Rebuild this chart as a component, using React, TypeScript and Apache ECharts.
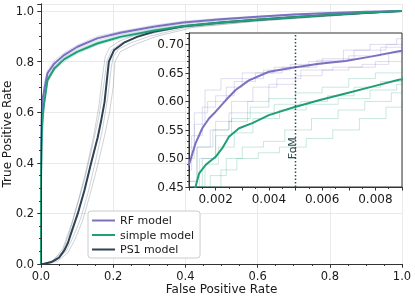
import React, { useEffect, useRef } from 'react';
import * as echarts from 'echarts';

// ---------- data (FPR, TPR) ----------
const rfCurve = [[0,0],[0,0.30],[0.0005,0.45],[0.001,0.489],[0.00113,0.509],[0.00125,0.527],[0.0015,0.553],[0.00175,0.570],[0.002,0.582],[0.00238,0.602],[0.00275,0.62],[0.00325,0.637],[0.004,0.652],[0.00488,0.659],[0.00588,0.666],[0.00688,0.671],[0.00788,0.679],[0.00888,0.688],[0.0095,0.692],[0.018,0.754],[0.037,0.793],[0.064,0.826],[0.101,0.859],[0.156,0.892],[0.22,0.914],[0.312,0.938],[0.394,0.955],[0.5,0.968],[0.6,0.978],[0.7,0.986],[0.8,0.992],[0.9,0.997],[1,1]];
const simpleCurve = [[0,0],[0,0.35],[0.001,0.42],[0.00125,0.451],[0.00138,0.474],[0.00163,0.489],[0.002,0.503],[0.00225,0.518],[0.0025,0.538],[0.00288,0.553],[0.00338,0.562],[0.004,0.576],[0.00488,0.589],[0.00588,0.602],[0.00688,0.614],[0.00788,0.626],[0.00888,0.638],[0.0095,0.642],[0.018,0.727],[0.037,0.773],[0.064,0.809],[0.10,0.839],[0.156,0.872],[0.22,0.898],[0.31,0.922],[0.39,0.94],[0.5,0.955],[0.6,0.966],[0.7,0.976],[0.8,0.985],[0.9,0.993],[1,1]];
const ps1Curve = [[0,0],[0.01,0.001],[0.03,0.008],[0.05,0.025],[0.065,0.055],[0.075,0.085],[0.083,0.12],[0.102,0.2],[0.12,0.29],[0.139,0.4],[0.157,0.5],[0.167,0.57],[0.176,0.64],[0.182,0.72],[0.188,0.8],[0.202,0.845],[0.23,0.875],[0.266,0.898],[0.312,0.918],[0.394,0.94],[0.5,0.955],[0.6,0.966],[0.7,0.976],[0.8,0.985],[0.9,0.993],[1,1]];

const rfThinMain1 = [[0,0],[0,0.5],[0.009,0.715],[0.018,0.765],[0.037,0.805],[0.064,0.835],[0.101,0.866],[0.156,0.9],[0.22,0.92],[0.312,0.944],[0.394,0.96],[0.5,0.972],[0.7,0.988],[1,1]];
const rfThinMain2 = [[0,0],[0,0.45],[0.009,0.685],[0.018,0.742],[0.037,0.782],[0.064,0.818],[0.101,0.852],[0.156,0.884],[0.22,0.908],[0.312,0.932],[0.394,0.95],[0.5,0.963],[0.7,0.982],[1,1]];
const rfThinMain3 = [[0,0],[0,0.47],[0.009,0.705],[0.018,0.76],[0.037,0.79],[0.064,0.83],[0.101,0.86],[0.156,0.895],[0.22,0.918],[0.312,0.94],[0.394,0.956],[0.5,0.97],[0.7,0.986],[1,1]];

const simpleThinMain1 = [[0,0],[0,0.42],[0.009,0.665],[0.018,0.735],[0.037,0.782],[0.064,0.816],[0.1,0.846],[0.156,0.878],[0.22,0.904],[0.31,0.928],[0.39,0.945],[0.5,0.96],[0.7,0.98],[1,1]];
const simpleThinMain2 = [[0,0],[0,0.38],[0.009,0.63],[0.018,0.718],[0.037,0.765],[0.064,0.8],[0.1,0.832],[0.156,0.866],[0.22,0.892],[0.31,0.916],[0.39,0.935],[0.5,0.95],[0.7,0.972],[1,1]];
const simpleThinMain3 = [[0,0],[0,0.4],[0.009,0.65],[0.018,0.73],[0.037,0.778],[0.064,0.812],[0.1,0.842],[0.156,0.876],[0.22,0.9],[0.31,0.925],[0.39,0.942],[0.5,0.957],[0.7,0.978],[1,1]];

const ps1Thin1 = [[0,0],[0.03,0.01],[0.06,0.05],[0.08,0.13],[0.1,0.23],[0.12,0.33],[0.14,0.45],[0.16,0.58],[0.175,0.72],[0.182,0.8],[0.195,0.845],[0.22,0.872],[0.27,0.9],[0.4,0.94],[0.6,0.966],[1,1]];
const ps1Thin2 = [[0,0],[0.04,0.012],[0.07,0.05],[0.09,0.11],[0.11,0.18],[0.13,0.28],[0.15,0.4],[0.17,0.53],[0.185,0.66],[0.195,0.78],[0.2,0.82],[0.215,0.85],[0.25,0.875],[0.3,0.9],[0.4,0.935],[0.6,0.962],[1,1]];
const ps1Thin3 = [[0,0],[0.035,0.015],[0.06,0.06],[0.085,0.16],[0.105,0.26],[0.125,0.37],[0.145,0.5],[0.16,0.62],[0.17,0.74],[0.178,0.82],[0.19,0.855],[0.215,0.88],[0.26,0.905],[0.35,0.93],[0.5,0.955],[1,1]];
const ps1Thin4 = [[0,0],[0.045,0.01],[0.075,0.045],[0.095,0.1],[0.115,0.17],[0.135,0.27],[0.155,0.38],[0.175,0.5],[0.19,0.6],[0.2,0.7],[0.205,0.8],[0.22,0.84],[0.26,0.868],[0.32,0.9],[0.42,0.935],[0.6,0.96],[1,1]];

const rfThinInset1 = [[0.001,0.5],[0.0012,0.56],[0.0016,0.62],[0.0022,0.64],[0.003,0.65],[0.0042,0.66],[0.0055,0.67],[0.0068,0.69],[0.0078,0.70],[0.0088,0.71],[0.009,0.712]];
const rfThinInset2 = [[0.001,0.46],[0.0013,0.52],[0.0018,0.55],[0.0025,0.58],[0.0032,0.6],[0.004,0.63],[0.005,0.645],[0.006,0.655],[0.007,0.66],[0.008,0.67],[0.009,0.675]];
const rfThinInset3 = [[0.001,0.48],[0.0011,0.54],[0.0015,0.59],[0.002,0.61],[0.0027,0.635],[0.0035,0.65],[0.0045,0.66],[0.0058,0.672],[0.007,0.68],[0.0082,0.695],[0.009,0.70]];
const rfThinInset4 = [[0.001,0.45],[0.0014,0.5],[0.002,0.565],[0.0026,0.6],[0.0034,0.625],[0.0043,0.64],[0.0052,0.655],[0.0064,0.66],[0.0075,0.665],[0.0085,0.685],[0.009,0.688]];
const rfThinInset5 = [[0.001,0.52],[0.0012,0.58],[0.0017,0.6],[0.0024,0.625],[0.003,0.64],[0.0038,0.655],[0.0048,0.665],[0.006,0.675],[0.0072,0.69],[0.0084,0.70],[0.009,0.705]];

const simpleThinInset1 = [[0.001,0.45],[0.0015,0.5],[0.002,0.54],[0.0026,0.57],[0.0033,0.59],[0.004,0.605],[0.005,0.615],[0.006,0.625],[0.007,0.64],[0.008,0.65],[0.009,0.655]];
const simpleThinInset2 = [[0.0012,0.45],[0.0018,0.47],[0.0024,0.5],[0.003,0.52],[0.0038,0.53],[0.0046,0.55],[0.0056,0.57],[0.0066,0.585],[0.0076,0.6],[0.0086,0.615],[0.009,0.62]];
const simpleThinInset3 = [[0.001,0.46],[0.0013,0.52],[0.0019,0.55],[0.0025,0.565],[0.0032,0.58],[0.0042,0.595],[0.0052,0.6],[0.0062,0.61],[0.0072,0.625],[0.0082,0.635],[0.009,0.645]];
const simpleThinInset4 = [[0.0017,0.45],[0.0022,0.48],[0.0028,0.5],[0.0036,0.51],[0.0044,0.52],[0.0054,0.535],[0.0064,0.55],[0.0074,0.57],[0.0084,0.59],[0.009,0.6]];
const simpleThinInset5 = [[0.0011,0.45],[0.0016,0.49],[0.0021,0.52],[0.0027,0.545],[0.0034,0.57],[0.0044,0.585],[0.0054,0.595],[0.0066,0.605],[0.0078,0.62],[0.0088,0.63],[0.009,0.632]];

const fomLine = [[0.005,0.45],[0.005,0.72]];
const fomLabelPos = [0.00487, 0.518];

const legendNames = ['RF model', 'simple model', 'PS1 model'];

const FONT = 'DejaVu Sans';
const RF = '#7a72c0';
const SIMPLE = '#1f9e78';
const PS1 = '#2f4154';

export default function App() {
  const ref = useRef<HTMLDivElement>(null);
  useEffect(() => {
    const chart = echarts.init(ref.current!, null, { renderer: 'svg' });

    const thin = (data: number[][], color: string, xi: number, step: boolean, opacity = 0.3) => ({
      type: 'line', data, xAxisIndex: xi, yAxisIndex: xi, symbol: 'none', silent: true,
      step: step ? 'end' : false,
      lineStyle: { color, width: 0.8, opacity }, z: xi === 2 ? 11 : 2, clip: true,
    });
    const bold = (name: string, data: number[][], color: string, xi: number) => ({
      type: 'line', name, data, xAxisIndex: xi, yAxisIndex: xi, symbol: 'none',
      itemStyle: { color }, lineStyle: { color, width: 2 }, z: xi === 2 ? 12 : 3, clip: true,
    });

    const mainY = (v: number) => Math.abs(v * 5 - Math.round(v * 5)) < 1e-6 ? v.toFixed(1) : '';
    const insetX = (v: number) => {
      const k = Math.round(v / 0.001);
      return Math.abs(v - k * 0.001) < 1e-9 && k % 2 === 0 ? v.toFixed(3) : '';
    };
    const insetY = (v: number) => Math.abs(v * 20 - Math.round(v * 20)) < 1e-6 ? v.toFixed(2) : '';

    const axisLine = { show: true, lineStyle: { color: '#333', width: 1 } };
    const lbl = { color: '#1a1a1a', fontFamily: FONT, fontSize: 11.5 };
    const lblInset = { color: '#1a1a1a', fontFamily: FONT, fontSize: 12 };
    const title = { color: '#1a1a1a', fontFamily: FONT, fontSize: 12 };

    const option: any = {
      animation: false,
      textStyle: { fontFamily: FONT },
      grid: [
        { left: 41, top: 4, width: 361, height: 260, containLabel: false, outerBoundsMode: 'none' },
        { left: 189, top: 33, width: 213, height: 154, containLabel: false, outerBoundsMode: 'none',
          show: true, backgroundColor: '#fff', borderColor: '#333', borderWidth: 1, z: 10 },
      ],
      xAxis: [
        { type: 'value', gridIndex: 0, min: 0, max: 1, interval: 0.2, position: 'bottom',
          name: 'False Positive Rate', nameLocation: 'middle', nameGap: 19, nameMoveOverlap: false, nameTextStyle: title,
          axisLine, axisTick: { show: true, length: 3.5, lineStyle: { color: '#333' } },
          minorTick: { show: true, splitNumber: 4, length: 2, lineStyle: { color: '#333' } },
          axisLabel: { ...lbl, margin: 6, formatter: (v: number) => v.toFixed(1) },
          splitLine: { show: true, lineStyle: { color: '#e4e4e4', width: 0.8 } } },
        { type: 'value', gridIndex: 0, min: 0, max: 1, interval: 0.2, position: 'top',
          axisLine, axisTick: { show: true, inside: true, length: 3.5, lineStyle: { color: '#333' } },
          minorTick: { show: true, splitNumber: 4, length: 2, lineStyle: { color: '#333' } },
          axisLabel: { show: false }, splitLine: { show: false } },
        { type: 'value', gridIndex: 1, min: 0.001, max: 0.009, interval: 0.001, position: 'bottom', z: 12,
          axisLine, axisTick: { show: true, length: 3.5, lineStyle: { color: '#333' } },
          minorTick: { show: true, splitNumber: 2, length: 2, lineStyle: { color: '#333' } },
          axisLabel: { ...lblInset, margin: 6, formatter: insetX }, splitLine: { show: false } },
      ],
      yAxis: [
        { type: 'value', gridIndex: 0, min: 0, max: 1.028, interval: 0.2, position: 'left',
          name: 'True Positive Rate', nameLocation: 'middle', nameGap: 28, nameMoveOverlap: false, nameTextStyle: title,
          axisLine, axisTick: { show: true, length: 3.5, lineStyle: { color: '#333' } },
          minorTick: { show: true, splitNumber: 4, length: 2, lineStyle: { color: '#333' } },
          axisLabel: { ...lbl, margin: 7, formatter: mainY },
          splitLine: { show: true, lineStyle: { color: '#e4e4e4', width: 0.8 } } },
        { type: 'value', gridIndex: 0, min: 0, max: 1.028, interval: 0.2, position: 'right', z: 13,
          axisLine, axisTick: { show: true, inside: true, length: 3.5, lineStyle: { color: '#333' } },
          minorTick: { show: true, splitNumber: 4, length: 2, lineStyle: { color: '#333' } },
          axisLabel: { show: false }, splitLine: { show: false } },
        { type: 'value', gridIndex: 1, min: 0.45, max: 0.72, interval: 0.05, position: 'left', z: 12,
          axisLine, axisTick: { show: true, length: 3.5, lineStyle: { color: '#333' } },
          minorTick: { show: true, splitNumber: 5, length: 2, lineStyle: { color: '#333' } },
          axisLabel: { ...lblInset, margin: 5, formatter: insetY }, splitLine: { show: false } },
      ],
      legend: {
        data: legendNames.map((n) => ({ name: n, icon: 'rect' })), orient: 'vertical', left: 88, top: 211,
        itemWidth: 23, itemHeight: 2, itemGap: 3.5, padding: [4, 6, 3, 4],
        backgroundColor: '#fff', borderColor: '#ccc', borderWidth: 1, borderRadius: 3,
        textStyle: { color: '#1a1a1a', fontFamily: FONT, fontSize: 11 },
      },
      series: [
        thin(rfThinMain1, RF, 0, false), thin(rfThinMain2, RF, 0, false), thin(rfThinMain3, RF, 0, false),
        thin(simpleThinMain1, SIMPLE, 0, false), thin(simpleThinMain2, SIMPLE, 0, false), thin(simpleThinMain3, SIMPLE, 0, false),
        thin(ps1Thin1, PS1, 0, false), thin(ps1Thin2, PS1, 0, false), thin(ps1Thin3, PS1, 0, false), thin(ps1Thin4, PS1, 0, false),
        bold('PS1 model', ps1Curve, PS1, 0),
        bold('RF model', rfCurve, RF, 0),
        bold('simple model', simpleCurve, SIMPLE, 0),
        thin(rfThinInset1, RF, 2, true), thin(rfThinInset2, RF, 2, true), thin(rfThinInset3, RF, 2, true), thin(rfThinInset4, RF, 2, true), thin(rfThinInset5, RF, 2, true),
        thin(simpleThinInset1, SIMPLE, 2, true), thin(simpleThinInset2, SIMPLE, 2, true), thin(simpleThinInset3, SIMPLE, 2, true), thin(simpleThinInset4, SIMPLE, 2, true), thin(simpleThinInset5, SIMPLE, 2, true),
        bold('RF inset', rfCurve, RF, 2),
        bold('simple inset', simpleCurve, SIMPLE, 2),
        { type: 'line', name: 'FoM', data: fomLine, xAxisIndex: 2, yAxisIndex: 2, symbol: 'none', silent: true, z: 13,
          lineStyle: { color: '#2f4f4f', width: 1.5, type: [1.5, 2] } },
      ],
    };
    chart.setOption(option);
    const p = chart.convertToPixel({ gridIndex: 1 } as any, fomLabelPos) as number[];
    chart.setOption({
      graphic: [{
        type: 'text', x: p[0], y: p[1], rotation: Math.PI / 2, z: 20,
        style: { text: 'FoM', fill: '#2f4f4f', font: `11px "${FONT}"`, align: 'center', verticalAlign: 'middle' },
      }],
    });
    return () => chart.dispose();
  }, []);
  return <div ref={ref} style={{ position: 'fixed', left: 0, top: 0, width: 415, height: 297 }} />;
}
